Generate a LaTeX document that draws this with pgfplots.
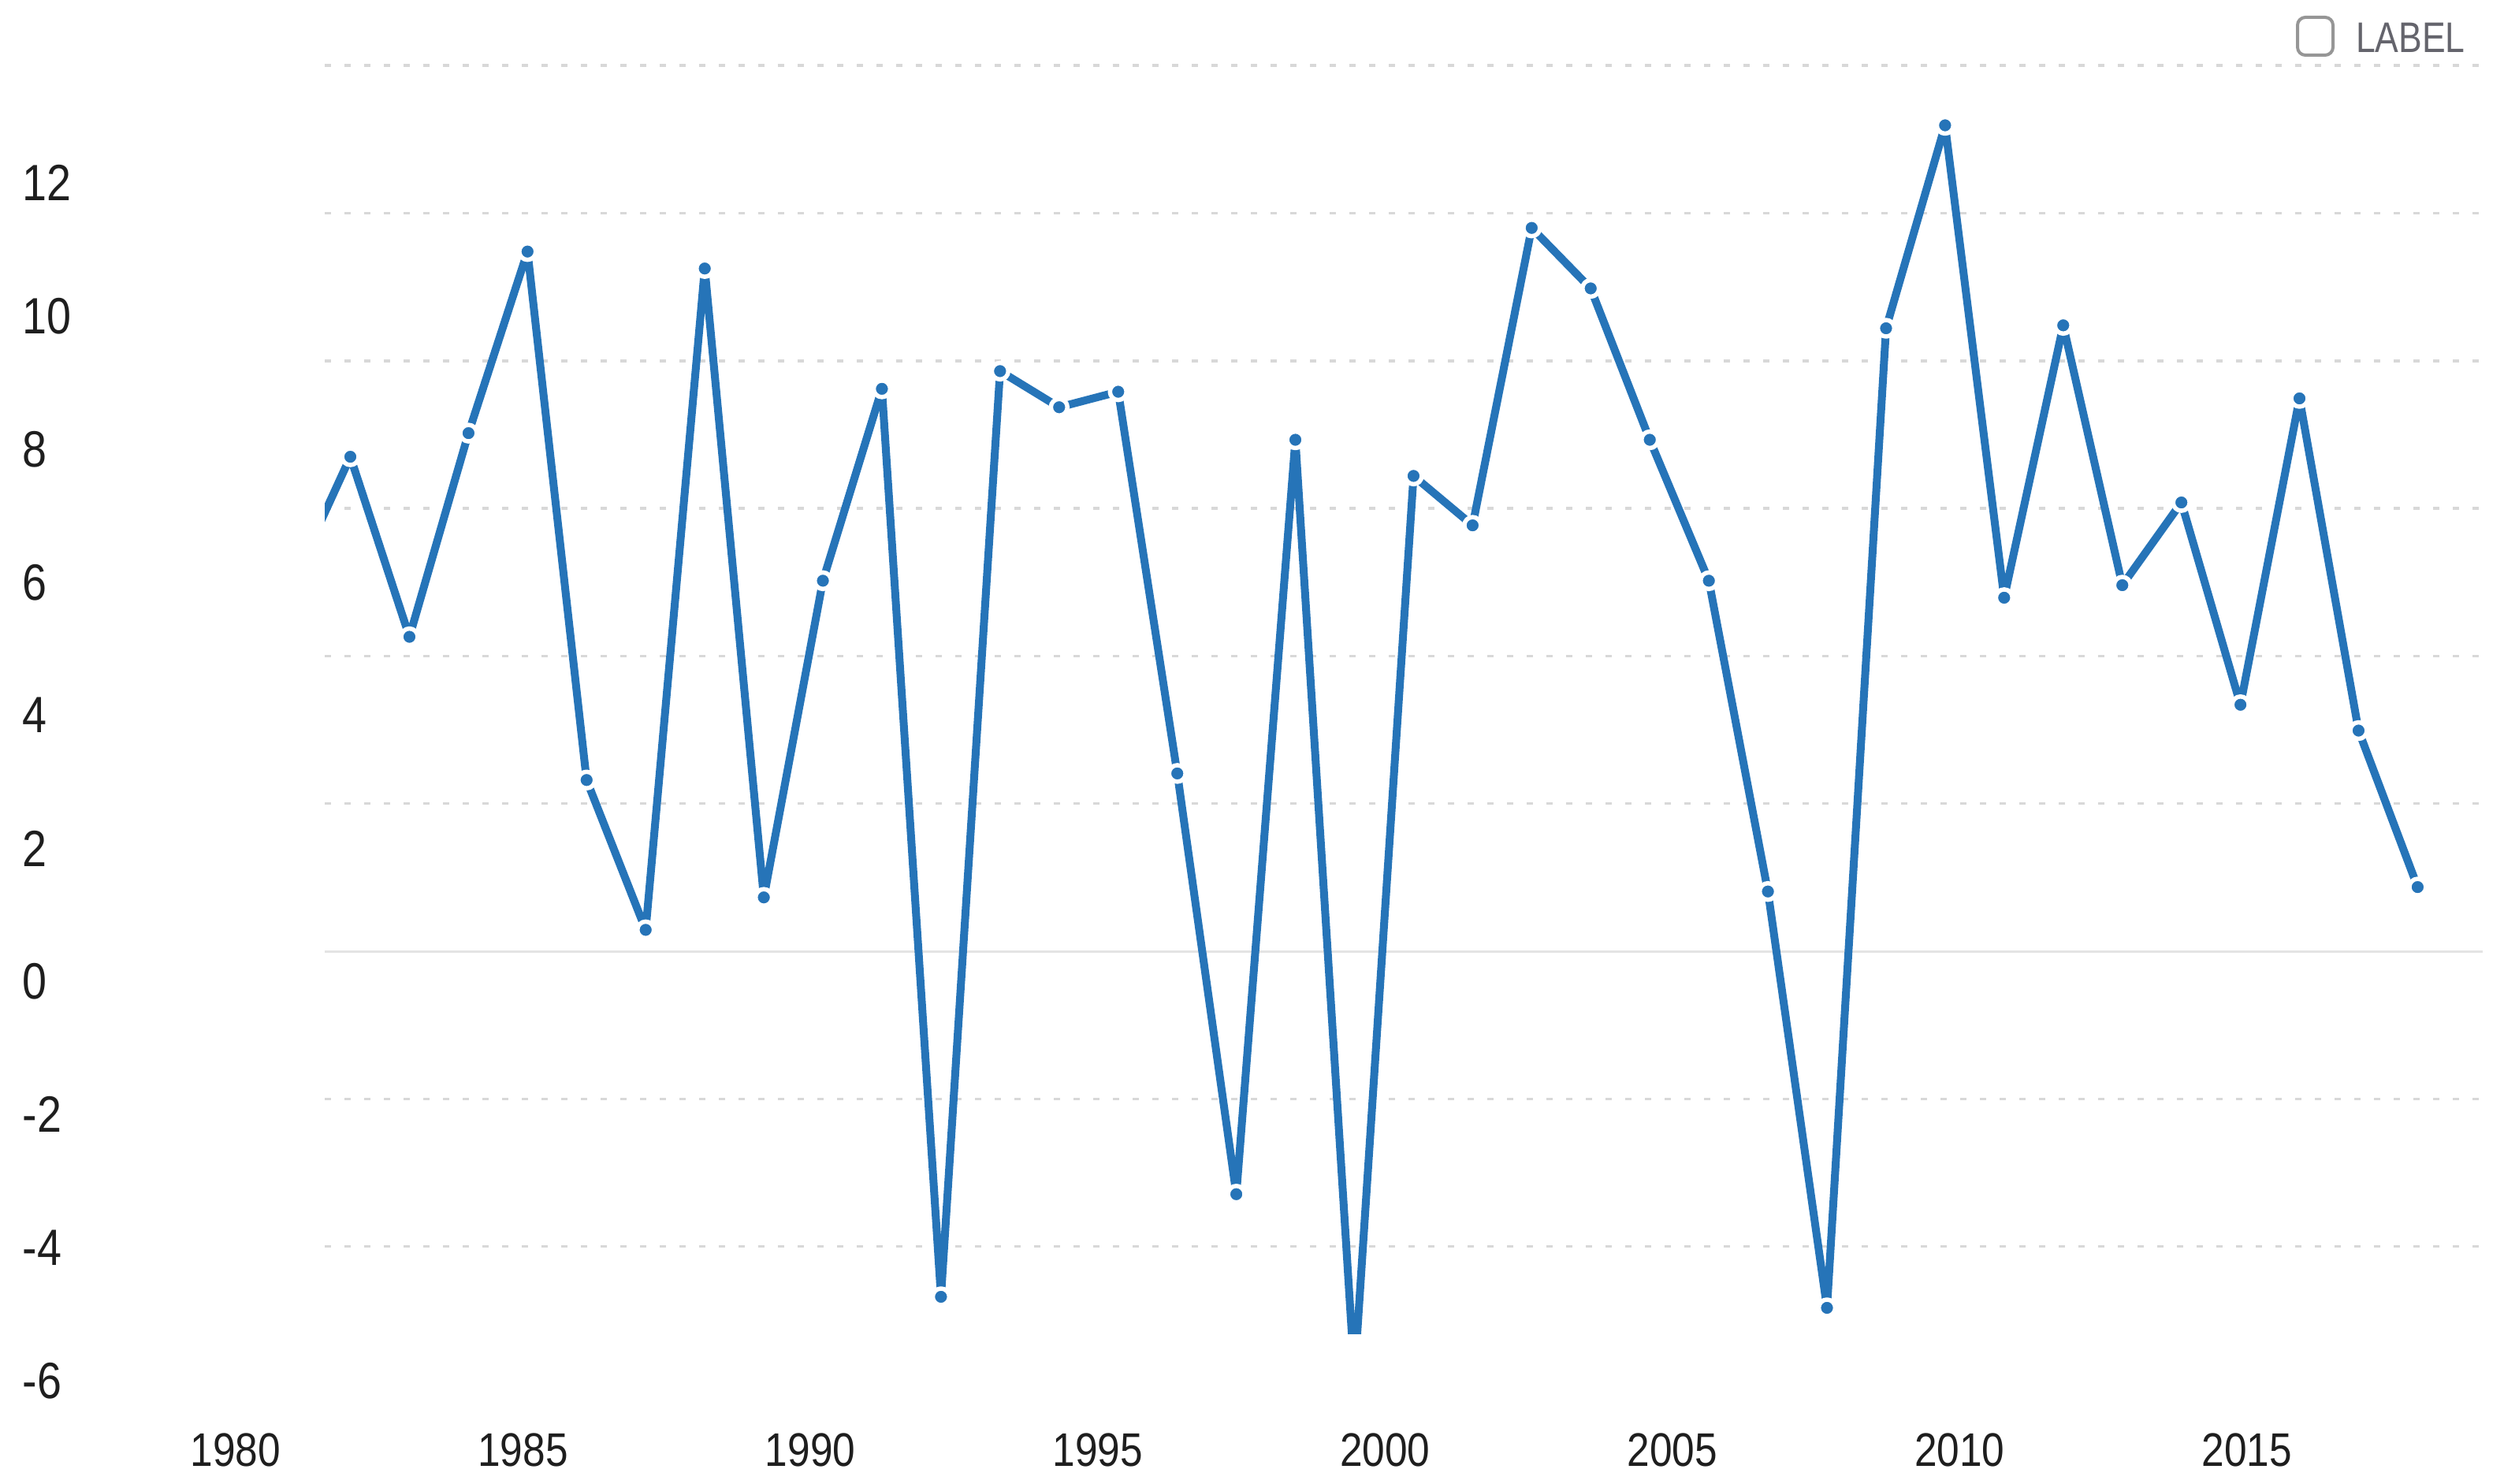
\documentclass[border=0pt]{standalone}
\usepackage{fontspec}
\setmainfont{Liberation Sans}[FakeStretch=0.86]
\newfontfamily\legfont{Liberation Sans}[FakeStretch=0.82]
\usepackage{pgfplots}
\pgfplotsset{compat=1.18}
\usepackage{pgfplotstable}
\definecolor{lineblue}{RGB}{38,116,184}
\definecolor{gridgray}{RGB}{216,216,216}
\definecolor{zerogray}{RGB}{228,228,228}
\definecolor{ticktext}{RGB}{30,30,30}
\definecolor{legtext}{RGB}{100,100,108}
\definecolor{boxgray}{RGB}{150,150,150}

\pgfplotstableread{
x y
1980.968 5.945
1981.996 7.886
1983.024 5.180
1984.052 8.241
1985.079 10.970
1986.107 3.028
1987.135 0.776
1988.163 10.715
1989.191 1.264
1990.219 6.023
1991.246 8.907
1992.274 -4.738
1993.302 9.173
1994.330 8.630
1995.358 8.863
1996.386 3.127
1997.413 -3.196
1998.441 8.141
1999.469 -5.925
2000.497 7.598
2001.525 6.855
2002.553 11.325
2003.580 10.416
2004.608 8.141
2005.636 6.023
2006.664 1.353
2007.692 -4.904
2008.720 9.817
2009.747 12.867
2010.775 5.768
2011.803 9.861
2012.831 5.956
2013.859 7.199
2014.887 4.159
2015.914 8.763
2016.942 3.771
2017.970 1.419
}\growth

\begin{document}
\begin{tikzpicture}
\useasboundingbox (0bp,0bp) rectangle (635.4bp,376.6bp);
% axis carrying the tick labels
\begin{axis}[
  at={(0bp,0bp)}, anchor=south west,
  scale only axis, width=635.4bp, height=376.6bp,
  xmin=1975.899, xmax=2019.473, ymin=-7.552, ymax=14.751,
  axis line style={draw=none}, major tick length=0pt,
  xtick={1980,1985,...,2015},
  xticklabels={1980,1985,1990,1995,2000,2005,2010,2015},
  ytick={-6,-4,...,12},
  yticklabels={-6,-4,-2,0,2,4,6,8,10,12},
  xticklabel style={anchor=center, yshift=8.6bp, inner sep=0pt,
    font=\fontsize{12}{14}\selectfont, text=ticktext},
  yticklabel style={anchor=west, xshift=5.6bp, inner sep=0pt,
    font=\fontsize{13}{15}\selectfont, text=ticktext},
]
\end{axis}
% plotting axis
\begin{axis}[
  at={(82.4bp,38bp)}, anchor=south west,
  scale only axis, width=547.6bp, height=323.6bp,
  xmin=1981.550, xmax=2019.103, ymin=-5.301, ymax=13.862,
  axis line style={draw=none}, major tick length=0pt,
  xtick=\empty,
  ytick={-3.983,-1.765,2.673,4.891,7.110,9.328,11.547,13.766},
  yticklabels={},
  ymajorgrids,
  major grid style={draw=gridgray, line width=0.7bp, dash pattern=on 1.6bp off 3.4bp},
  extra y ticks={0.454}, extra y tick labels={},
  extra y tick style={grid=major, major grid style={draw=zerogray, solid, line width=0.6bp}},
]
\addplot[lineblue, line width=2.0bp, line join=round, mark=*, mark size=2.1bp,
  mark options={fill=lineblue, draw=white, line width=1.1bp, solid}] table {\growth};
\end{axis}
% legend
\draw[draw=boxgray, line width=0.8bp, rounded corners=2bp] (583.0bp,362.6bp) rectangle (592.0bp,372.2bp);
\node[anchor=west, inner sep=0pt, text=legtext, font=\legfont\fontsize{10.9}{12}\selectfont] at (597.6bp,367.1bp) {LABEL};
\end{tikzpicture}
\end{document}
